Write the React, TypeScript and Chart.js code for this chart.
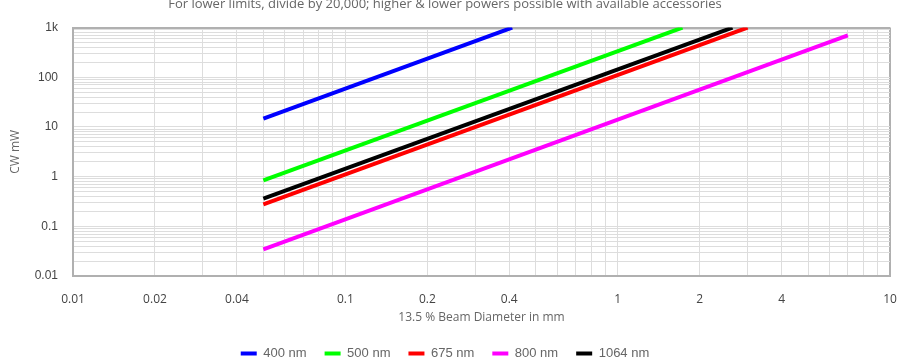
import React, { useEffect, useRef } from "react";
import { Chart, registerables } from "chart.js";

Chart.register(...registerables);

const titleText = "For lower limits, divide by 20,000; higher & lower powers possible with available accessories";
const seriesNames = ["400 nm", "500 nm", "675 nm", "800 nm", "1064 nm"];
const seriesColors = ["#0000ff", "#00ff00", "#ff0000", "#ff00ff", "#000000"];
const diam400 = [0.05, 0.41];
const power400 = [14.7, 1000];
const diam500 = [0.05, 1.73];
const power500 = [0.84, 1000];
const diam675 = [0.05, 3.0];
const power675 = [0.275, 1000];
const diam800 = [0.05, 7.0];
const power800 = [0.0344, 700];
const diam1064 = [0.05, 2.64];
const power1064 = [0.359, 1000];
const xTickLabels = [0.01, 0.02, 0.04, 0.1, 0.2, 0.4, 1, 2, 4, 10];
const yTickLabels = [0.01, 0.1, 1, 10, 100, 1000];

function logTicks(min: number, max: number) {
  const out: { value: number }[] = [];
  for (let e = Math.round(Math.log10(min)); e < Math.round(Math.log10(max)); e++) {
    for (let m = 1; m <= 9; m++) out.push({ value: +(m * Math.pow(10, e)).toPrecision(3) });
  }
  out.push({ value: max });
  return out;
}

function pts(xs: number[], ys: number[]) {
  return xs.map((x, i) => ({ x, y: ys[i] }));
}

export default function App() {
  const ref = useRef<HTMLCanvasElement>(null);
  useEffect(() => {
    if (!ref.current) return;
    const data = [
      pts(diam400, power400),
      pts(diam500, power500),
      pts(diam675, power675),
      pts(diam800, power800),
      pts(diam1064, power1064),
    ];
    const chart = new Chart(ref.current, {
      type: "line",
      data: {
        datasets: seriesNames.map((name, i) => ({
          label: name,
          data: data[i],
          borderColor: seriesColors[i],
          backgroundColor: seriesColors[i],
          borderWidth: 4,
          pointRadius: 0,
          pointStyle: "line",
          fill: false,
          tension: 0,
        })),
      },
      options: {
        animation: false,
        responsive: false,
        maintainAspectRatio: false,
        layout: { padding: { left: 0, right: 10, top: 0, bottom: 0 } },
        plugins: {
          tooltip: { enabled: false },
          title: {
            display: true,
            text: titleText,
            color: "#666",
            font: { family: "'Open Sans'", size: 13, weight: "normal" },
            padding: { top: 2, bottom: 16 },
          },
          legend: {
            position: "bottom",
            labels: {
              usePointStyle: true,
              pointStyleWidth: 16,
              color: "#666",
              padding: 18,
              font: { family: "'Liberation Sans', Arial", size: 13 },
            },
          },
        },
        scales: {
          x: {
            type: "logarithmic",
            min: 0.01,
            max: 10,
            afterBuildTicks: (s: any) => {
              s.ticks = logTicks(0.01, 10);
            },
            afterFit: (s: any) => {
              s.height = 53;
              s.paddingRight = 0;
              s.paddingLeft = 0;
            },
            ticks: {
              autoSkip: false,
              maxRotation: 0,
              padding: 16,
              color: "#444",
              font: { family: "'Open Sans'", size: 12 },
              callback: (v: any) => {
                const n = Number(v);
                return xTickLabels.some((t) => Math.abs(t - n) / t < 1e-6) ? String(n) : "";
              },
            },
            grid: {
              color: (c: any) => (c.tick && c.tick.value === 10 ? "#b0b0b0" : "#dddddd"),
              lineWidth: (c: any) => (c.tick && c.tick.value === 10 ? 2 : 1),
              drawTicks: false,
              tickLength: 0,
            },
            border: { color: "#b0b0b0", width: 2 },
            title: {
              display: true,
              text: "13.5 % Beam Diameter in mm",
              color: "#666",
              font: { family: "'Open Sans'", size: 12 },
              padding: { top: 0, bottom: 4 },
            },
          },
          y: {
            type: "logarithmic",
            min: 0.01,
            max: 1000,
            afterBuildTicks: (s: any) => {
              s.ticks = logTicks(0.01, 1000);
            },
            afterFit: (s: any) => {
              s.width = 73;
            },
            ticks: {
              autoSkip: false,
              padding: 15,
              color: "#444",
              font: { family: "'Liberation Sans', Arial", size: 12 },
              callback: (v: any) => {
                const n = Number(v);
                if (!yTickLabels.some((t) => Math.abs(t - n) / t < 1e-6)) return "";
                return n >= 1000 ? n / 1000 + "k" : String(n);
              },
            },
            grid: {
              color: (c: any) => (c.tick && c.tick.value === 1000 ? "#b0b0b0" : "#dddddd"),
              lineWidth: (c: any) => (c.tick && c.tick.value === 1000 ? 2 : 1),
              drawTicks: false,
              tickLength: 0,
            },
            border: { color: "#b0b0b0", width: 2 },
            title: {
              display: true,
              text: "CW mW",
              color: "#666",
              font: { family: "'Open Sans'", size: 12 },
              padding: { top: 8, bottom: 0 },
            },
          },
        },
      },
    } as any);
    return () => chart.destroy();
  }, []);
  return (
    <div style={{ position: "fixed", left: 0, top: -6, width: 900, height: 376 }}>
      <canvas ref={ref} width={900} height={376} style={{ width: 900, height: 376, display: "block" }} />
    </div>
  );
}
